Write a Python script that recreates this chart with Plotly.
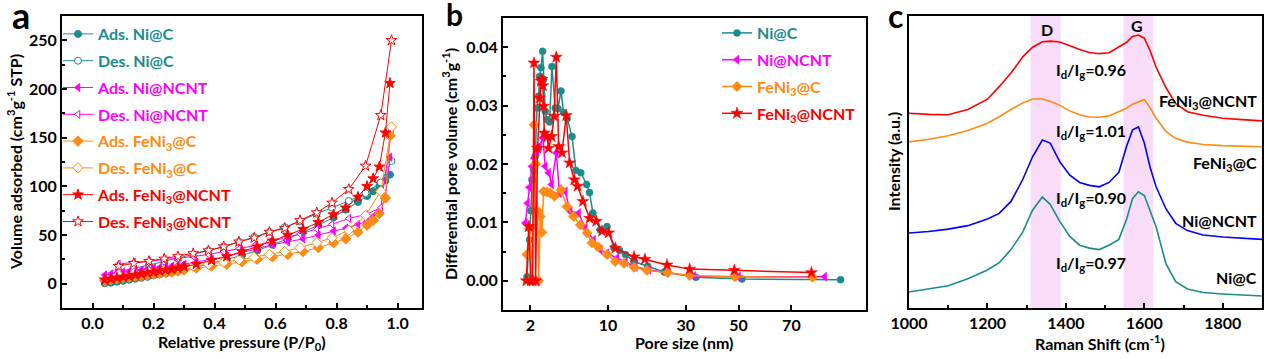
import numpy as np
import plotly.graph_objects as go

# ---------------- Data ----------------
# Panel a: N2 isotherms
ads_p = [0.04, 0.06, 0.08, 0.10, 0.12, 0.14, 0.16, 0.18, 0.20, 0.22, 0.24, 0.26, 0.28, 0.30,
         0.34, 0.39, 0.44, 0.49, 0.54, 0.59, 0.64, 0.69, 0.74, 0.79, 0.83, 0.87, 0.90, 0.92,
         0.94, 0.96, 0.975]
ads_ni_c = [0.5, 1, 2, 3, 4, 5, 6, 7, 8.5, 9.5, 10.5, 11.5, 13, 14, 17, 21, 25, 29, 34, 40,
            46, 53, 60, 68, 76, 84, 90, 95, 100, 106, 112]
ads_ni_ncnt = [9, 10, 11, 12, 12.5, 13.5, 14, 15, 16, 16.5, 17.5, 18, 19, 20, 22, 25, 28, 32,
               36, 40, 43, 46, 50, 54, 57, 61, 64, 69, 75, 88, 130]
ads_feni3_c = [3, 4, 5, 6, 6.5, 7.5, 8, 9, 10, 10.5, 11.5, 12, 13, 14, 16, 18, 20, 22.5, 25,
               27.5, 30, 33, 37, 42, 46, 53, 60, 65, 72, 88, 152]
ads_feni3_ncnt = [4, 5, 6, 7, 8, 9, 10, 11, 12, 13, 14, 15, 16, 17.5, 20, 24, 28, 33, 38, 44,
                  50, 56, 63, 71, 78, 89, 100, 108, 120, 155, 206]

des_p = [0.98, 0.945, 0.895, 0.84, 0.785, 0.735, 0.68, 0.63, 0.58, 0.53, 0.48, 0.43, 0.38,
         0.33, 0.28, 0.235, 0.185, 0.135, 0.085]
des_ni_c = [126, 104, 93, 85, 78, 72, 64, 58, 53, 48, 43, 38, 34, 30, 26, 23, 19, 16, 12]
des_ni_ncnt = [157, 78, 71, 67, 61, 56, 51, 47, 43, 39, 36, 33, 30, 28, 26, 25, 23, 22, 20]
des_feni3_c = [161, 95, 70, 55, 47, 42, 37, 33, 30, 27, 24.5, 22, 20, 18, 16, 14, 12, 10.5, 9]
des_feni3_ncnt = [250, 173, 121, 97, 83, 73, 65, 57, 53, 47, 43, 38, 34, 31, 28, 25.5, 23, 21, 18]

# Panel b: pore size distributions (nm, cm3/g)
ni_c_nm = [1.66, 1.93, 2.07, 2.17, 2.34, 2.51, 2.69, 2.86, 2.96, 3.10, 3.27, 3.37, 3.55, 3.72,
           3.99, 4.23, 4.57, 4.85, 5.16, 5.43, 5.80, 6.30, 6.70, 7.20, 7.80, 8.10, 8.45, 9.20,
           9.90, 11.5, 13.0, 14.5, 16.7, 20.2, 24.5, 33.9, 51.3, 88.6]
ni_c_v = [0.0007, 0.007, 0.012, 0.0173, 0.019, 0.0213, 0.0296, 0.0316, 0.035, 0.0365, 0.0393,
          0.0345, 0.029, 0.0276, 0.0272, 0.0367, 0.0296, 0.0295, 0.0325, 0.0288, 0.0278, 0.0247,
          0.0189, 0.0185, 0.0165, 0.0151, 0.0116, 0.0087, 0.0093, 0.0057, 0.0052, 0.0045,
          0.0033, 0.0025, 0.0015, 0.0006, 0.0003, 0.0002]
ni_ncnt_nm = [1.49, 1.72, 1.9, 2.17, 2.4, 2.7, 2.96, 3.3, 3.54, 3.89, 4.2, 4.68, 5.0, 5.6, 6.1,
              6.97, 7.66, 8.5, 9.2, 9.9, 12.3, 14.5, 17.0, 20.5, 25.0, 33.0, 50.0, 82.6]
ni_ncnt_v = [0.0099, 0.0133, 0.016, 0.0196, 0.021, 0.0222, 0.023, 0.0245, 0.0196, 0.0185,
             0.0165, 0.0219, 0.0150, 0.0153, 0.0119, 0.0116, 0.009, 0.007, 0.0053, 0.0047,
             0.0039, 0.0032, 0.0024, 0.0019, 0.0014, 0.0008, 0.0007, 0.0007]
feni3_c_nm = [1.66, 1.93, 2.17, 2.4, 2.55, 2.75, 2.86, 3.03, 3.2, 3.37, 3.7, 4.06, 4.5, 5.16,
              5.78, 6.46, 7.15, 7.84, 8.35, 9.0, 9.9, 11.9, 14.1, 16.7, 20.0, 25.4, 31.5, 48.6,
              78.0]
feni3_c_v = [0.0045, 0.009, 0.0002, 0.0267, 0.02, 0.012, 0.0, 0.011, 0.0083, 0.0153, 0.0152,
             0.015, 0.0145, 0.0156, 0.0127, 0.011, 0.0096, 0.0082, 0.0065, 0.0058, 0.0045,
             0.0033, 0.003, 0.0023, 0.0018, 0.0014, 0.0009, 0.0007, 0.0006]
feni3_ncnt_nm = [1.59, 1.85, 2.05, 2.25, 2.38, 2.55, 2.75, 2.96, 3.1, 3.2, 3.3, 3.37, 3.44, 3.72,
                 3.88, 4.2, 4.45, 4.68, 4.92, 5.26, 5.7, 6.05, 6.53, 6.87, 7.42, 8.1, 8.8,
                 9.38, 10.16, 11.9, 16.7, 19.5, 25.2, 31.5, 48.4, 77.6]
feni3_ncnt_v = [0.0, 0.0093, 0.0, 0.0, 0.0373, 0.0, 0.0227, 0.0313, 0.0342, 0.0345, 0.0334,
                0.0299, 0.0253, 0.0247, 0.0227, 0.0247, 0.0282, 0.0383, 0.023, 0.0219, 0.0283,
                0.0202, 0.0173, 0.0162, 0.0136, 0.0107, 0.0102, 0.0085, 0.0082, 0.0056, 0.0041,
                0.0037, 0.0027, 0.002, 0.0018, 0.0014]
pore_ticks = [2, 10, 30, 50, 70]

# Panel c: Raman spectra (offset, a.u.)
raman_x = [1000, 1050, 1100, 1150, 1200, 1230, 1260, 1290, 1315, 1340, 1360, 1385, 1410, 1435,
           1460, 1485, 1510, 1535, 1555, 1570, 1585, 1600, 1615, 1630, 1655, 1680, 1710, 1750,
           1800, 1850, 1900]
raman_ni_c = [5.5, 6.5, 7.6, 10, 13, 15.5, 20, 26, 33.5, 38, 35.5, 29.5, 24.5, 21.5, 20.5, 20,
              21.5, 23.5, 30.5, 37.5, 39.8, 38.5, 33, 27.8, 15.2, 9, 6.5, 5.3, 4.8, 4.4, 4.1]
raman_ni_ncnt = [25.7, 26.2, 27, 28.2, 30.5, 32.4, 36.5, 44, 51.8, 57.5, 56.5, 50, 45.5, 43, 42,
                 41.5, 43, 46.5, 55.5, 61, 62, 56.5, 48, 41.5, 34, 29, 26.5, 25, 24.3, 23.8, 23.5]
raman_feni3_c = [56.9, 57.8, 59, 60.8, 63.3, 65.5, 68, 70.2, 71.6, 71.6, 70.8, 69.4, 67.5, 66.2,
                 65.4, 65.3, 65.8, 67.2, 68.5, 69.8, 70.5, 71.4, 68.5, 65, 60.5, 58, 56.8, 56,
                 55.6, 55.3, 55.2]
raman_feni3_ncnt = [66.7, 66.3, 66.2, 68, 71.5, 75.8, 80.5, 86, 89.3, 91.2, 91.4, 91.1, 89.8,
                    88.5, 87.5, 87.1, 87.4, 89.5, 91, 93, 93.5, 92.4, 88, 82.5, 75.5, 70, 67.2,
                    66, 65, 64.5, 64.1]
d_band = [1310, 1387]
g_band = [1547, 1623]
ratios = ["0.96", "1.01", "0.90", "0.97"]
sample_labels = ["FeNi<sub>3</sub>@NCNT", "FeNi<sub>3</sub>@C", "Ni@NCNT", "Ni@C"]

# ---------------- Styles ----------------
TEAL = "#1a8c8c"
MAG = "#ff00ff"
ORG = "#ff8a14"
RED = "#ff0000"
BLUE = "#0000ff"
BAND = "#f8dcf8"
FONT = "Lato"

W, H = 1269, 359


def px_dom(x0, x1):
    return [x0 / W, x1 / W]


def py_dom(top, bottom):
    return [1 - bottom / H, 1 - top / H]


# pore-size axis: piecewise scale through tick anchors
anchor_u = [0.0, 1.0, 2.0, 2.68, 3.36]


def pore_scale(nm):
    nm = np.asarray(nm, dtype=float)
    u = np.interp(nm, pore_ticks, anchor_u)
    lo = nm < pore_ticks[0]
    u[lo] = anchor_u[0] + (nm[lo] - pore_ticks[0]) * (anchor_u[1] - anchor_u[0]) / (pore_ticks[1] - pore_ticks[0])
    hi = nm > pore_ticks[-1]
    u[hi] = anchor_u[-1] + (nm[hi] - pore_ticks[-1]) * (anchor_u[-1] - anchor_u[-2]) / (pore_ticks[-1] - pore_ticks[-2])
    return u


fig = go.Figure()


def cname(text, color):
    return f'<span style="color:{color}">{text}</span>'


# ----- panel a -----
iso = [
    ("Ads. Ni@C", ads_p, ads_ni_c, TEAL, "circle", True),
    ("Des. Ni@C", des_p, des_ni_c, TEAL, "circle", False),
    ("Ads. Ni@NCNT", ads_p, ads_ni_ncnt, MAG, "triangle-left", True),
    ("Des. Ni@NCNT", des_p, des_ni_ncnt, MAG, "triangle-left", False),
    ("Ads. FeNi<sub>3</sub>@C", ads_p, ads_feni3_c, ORG, "diamond", True),
    ("Des. FeNi<sub>3</sub>@C", des_p, des_feni3_c, ORG, "diamond", False),
    ("Ads. FeNi<sub>3</sub>@NCNT", ads_p, ads_feni3_ncnt, RED, "star", True),
    ("Des. FeNi<sub>3</sub>@NCNT", des_p, des_feni3_ncnt, RED, "star", False),
]
for i, (nm, xs, ys, col, sym, filled) in enumerate(iso):
    size = 8 if sym in ("star", "diamond") else 7
    fig.add_trace(go.Scatter(
        x=xs, y=ys, mode="lines+markers", name=cname(nm, col),
        line=dict(color=col, width=1),
        marker=dict(symbol=sym, size=size, color=col if filled else "white",
                    line=dict(color=col, width=1)),
        xaxis="x", yaxis="y", legend="legend", legendgroup=f"a{i}",
    ))

# ----- panel b -----
psd = [
    ("Ni@C", ni_c_nm, ni_c_v, TEAL, "circle", 7),
    ("Ni@NCNT", ni_ncnt_nm, ni_ncnt_v, MAG, "triangle-left", 8),
    ("FeNi<sub>3</sub>@C", feni3_c_nm, feni3_c_v, ORG, "diamond", 8),
    ("FeNi<sub>3</sub>@NCNT", feni3_ncnt_nm, feni3_ncnt_v, RED, "star", 9),
]
for i, (nm, xs, ys, col, sym, size) in enumerate(psd):
    fig.add_trace(go.Scatter(
        x=pore_scale(xs), y=ys, mode="lines+markers", name=cname(nm, col),
        line=dict(color=col, width=1.5),
        marker=dict(symbol=sym, size=size, color=col, line=dict(color=col, width=0.5)),
        xaxis="x2", yaxis="y2", legend="legend2", legendgroup=f"b{i}",
    ))

# ----- panel c -----
for ys, col in [(raman_ni_c, TEAL), (raman_ni_ncnt, BLUE), (raman_feni3_c, ORG), (raman_feni3_ncnt, RED)]:
    fig.add_trace(go.Scatter(x=raman_x, y=ys, mode="lines", line=dict(color=col, width=1.6),
                             xaxis="x3", yaxis="y3", showlegend=False))

for band in (d_band, g_band):
    fig.add_shape(type="rect", xref="x3", yref="y3 domain", x0=band[0], x1=band[1], y0=0, y1=1,
                  fillcolor=BAND, line=dict(width=0), layer="below")

tickfont = dict(family=FONT, size=16, color="black", weight="bold")
axis_common = dict(showline=True, linecolor="black", linewidth=1.8, mirror=True,
                   ticks="inside", ticklen=5, tickwidth=1.5, tickcolor="black",
                   showgrid=False, zeroline=False, tickfont=tickfont, automargin=False)

fig.update_layout(
    width=W, height=H, margin=dict(l=0, r=0, t=0, b=0, autoexpand=False),
    paper_bgcolor="white", plot_bgcolor="white",
    font=dict(family=FONT, color="black"),
    xaxis=dict(domain=px_dom(62, 422), range=[-0.1, 1.08], dtick=0.2, tick0=0,
               tickformat=".1f", anchor="y",
               minor=dict(dtick=0.1, ticks="inside", ticklen=3, tickcolor="black"),
               **axis_common),
    yaxis=dict(domain=py_dom(16, 308), range=[-25, 275], dtick=50, tick0=0, anchor="x",
               minor=dict(dtick=25, ticks="inside", ticklen=3, tickcolor="black"),
               **axis_common),
    xaxis2=dict(domain=px_dom(503, 866), range=[-0.351, 4.32], anchor="y2",
                tickvals=pore_scale(pore_ticks).tolist(), ticktext=[str(t) for t in pore_ticks],
                **axis_common),
    yaxis2=dict(domain=py_dom(18, 310), range=[-0.005, 0.045], dtick=0.01, tick0=0,
                tickformat=".2f", anchor="x2",
                minor=dict(dtick=0.005, ticks="inside", ticklen=3, tickcolor="black"),
                **axis_common),
    xaxis3=dict(domain=px_dom(909, 1262), range=[1000, 1900], dtick=200, tick0=1000,
                anchor="y3",
                minor=dict(dtick=100, ticks="inside", ticklen=3, tickcolor="black"),
                **axis_common),
    yaxis3=dict(domain=py_dom(16, 308), range=[0, 100], anchor="x3", showticklabels=False,
                showline=True, linecolor="black", linewidth=1.8, mirror=True, ticks="",
                showgrid=False, zeroline=False, automargin=False),
    legend=dict(x=58 / W, y=1 - 17 / H, xanchor="left", yanchor="top",
                bgcolor="rgba(0,0,0,0)", font=dict(family=FONT, size=16, weight="bold"),
                traceorder="grouped", tracegroupgap=3, itemwidth=30),
    legend2=dict(x=717 / W, y=1 - 16 / H, xanchor="left", yanchor="top",
                 bgcolor="rgba(0,0,0,0)", font=dict(family=FONT, size=16, weight="bold"),
                 traceorder="grouped", tracegroupgap=3, itemwidth=30),
)

ann = []


def text(x, y, s, size=16, xref="paper", yref="paper", angle=0, xanchor="center", yanchor="middle"):
    ann.append(dict(x=x, y=y, xref=xref, yref=yref, text=s, showarrow=False, textangle=angle,
                    xanchor=xanchor, yanchor=yanchor,
                    font=dict(family=FONT, size=size, color="black", weight="bold")))


# panel letters
text(21 / W, 1 - 15 / H, "a", size=36)
text(454 / W, 1 - 14 / H, "b", size=30)
text(895 / W, 1 - 16 / H, "c", size=32)

# axis titles
text(0.5, 1 - 342 / H, "Relative pressure (P/P<sub>0</sub>)", xref="x domain")
text(14 / W, 0.5, "Volume adsorbed (cm<sup>3</sup>g<sup>-1</sup> STP)", yref="y domain", angle=-90)
text(0.5, 1 - 342 / H, "Pore size (nm)", xref="x2 domain")
text(449 / W, 0.5, "Differential pore volume (cm<sup>3</sup>g<sup>-1</sup>)", yref="y2 domain", angle=-90)
text(1100 / W, 1 - 342 / H, "Raman Shift (cm<sup>-1</sup>)")
text(893 / W, 0.5, "Intensity (a.u.)", yref="y3 domain", angle=-90)

# Raman annotations
ratio_y = [81.5, 60.3, 37.5, 15.3]
label_y = [70.6, 49.6, 30.0, 10.6]
for r, yv in zip(ratios, ratio_y):
    text(1464, yv, f"I<sub>d</sub>/I<sub>g</sub>={r}", xref="x3", yref="y3")
for s, yv in zip(sample_labels, label_y):
    text(1893, yv, s, xref="x3", yref="y3", xanchor="right")
text(1352, 95.5, "D", xref="x3", yref="y3")
text(1582, 96.9, "G", xref="x3", yref="y3")

fig.update_layout(annotations=ann)
fig.write_html("out.html", config={"displayModeBar": False},
               post_script="document.body.style.margin='0px';")
